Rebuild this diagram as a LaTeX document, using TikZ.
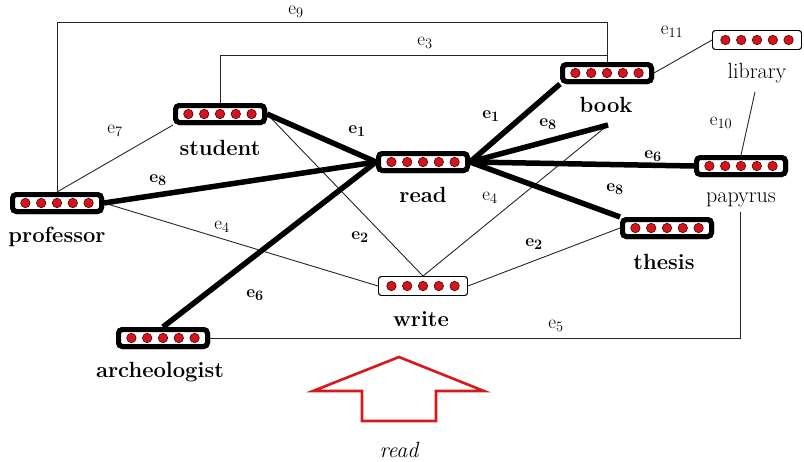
\documentclass[tikz,border=0pt]{standalone}
\usetikzlibrary{calc}
\definecolor{dotred}{RGB}{215,20,30}
\definecolor{dotrim}{RGB}{90,10,10}
\definecolor{arrowred}{RGB}{215,25,25}
\tikzset{
  heavybox/.style={draw=black, line width=5pt, rounded corners=4pt, fill=white,
    minimum width=89pt, minimum height=17pt, inner sep=0pt},
  lightbox/.style={draw=black, line width=0.9pt, rounded corners=3pt, fill=white,
    minimum width=89pt, minimum height=19pt, inner sep=0pt},
  heavyedge/.style={line width=5.5pt, line join=round},
  lightedge/.style={line width=0.9pt, draw=black!85},
  vlabel/.style={font=\fontsize{22}{24}\selectfont, inner sep=0pt},
  elabel/.style={font=\fontsize{19}{21}\selectfont, inner sep=0pt},
  bigarrow/.style={draw=arrowred, line width=2.6pt, line join=miter},
}
\newcommand{\dotrow}[1]{%
  \foreach \k in {-2,...,2}
    \filldraw[fill=dotred, draw=dotrim, line width=0.7pt] ($(#1.center)+(\k*15.8,0)$) circle (4.7pt);}
\begin{document}
\begin{tikzpicture}[x=1pt, y=-1pt]
\useasboundingbox (0,0) rectangle (804,461);

% free ends of the open connectors
\coordinate (bookstub) at (608,125);
\coordinate (libfoot) at (755,92);
\coordinate (papfoot) at (740,212);

% vertex boxes
\node[heavybox] (professor) at (57,203) {};
\node[heavybox] (student) at (220,114) {};
\node[heavybox] (read) at (423,162) {};
\node[heavybox] (book) at (607,73) {};
\node[lightbox] (library) at (757,40) {};
\node[heavybox] (papyrus) at (741,166) {};
\node[heavybox] (thesis) at (667,228) {};
\node[lightbox] (write) at (423,286) {};
\node[heavybox] (archeologist) at (163,338) {};

% ---------- thin connectors ----------
% e9 and e3: routed over the top
\draw[lightedge] (professor.north) -- (57,22) -- (607,22) -- (book.north);
\draw[lightedge] (student.north) -- (220,55) -- (607,55) -- (book.north);
% e7
\draw[lightedge] (professor.north) -- (student.south west);
% e4
\draw[lightedge] (professor.east) -- (write.west);
\draw[lightedge] (write.north) -- (bookstub);
% e2
\draw[lightedge] (student.east) -- (write.north);
\draw[lightedge] (write.east) -- (thesis.west);
% e5
\draw[lightedge] (archeologist.east) -- (740,338) -- (papfoot);
% e10, e11
\draw[lightedge] (libfoot) -- (papyrus.north);
\draw[lightedge] (book.east) -- (library.west);

% ---------- heavy connectors ----------
\draw[heavyedge] (student.east) -- (read.west);
\draw[heavyedge] (professor.east) -- (read.west);
\draw[heavyedge] (archeologist.north) -- (read.west);
\draw[heavyedge] (read.east) -- (book.south west);
\draw[heavyedge] (read.east) -- (bookstub);
\draw[heavyedge] (read.east) -- (papyrus.west);
\draw[heavyedge] (read.east) -- (thesis.north west);

% redraw boxes on top of the connectors
\foreach \n in {professor, student, read, book, papyrus, thesis, archeologist} {
  \node[heavybox] at (\n.center) {};
}
\node[lightbox] at (library.center) {};
\node[lightbox] at (write.center) {};
\foreach \n in {professor, student, read, book, library, papyrus, thesis, write, archeologist} {
  \dotrow{\n}
}

% vertex names
\node[vlabel] (lprofessor) at (57,237) {\bfseries professor};
\node[vlabel] (lstudent) at (220,148) {\bfseries student};
\node[vlabel] (lread) at (423,195) {\bfseries read};
\node[vlabel] (lbook) at (606,105) {\bfseries book};
\node[vlabel] (llibrary) at (757,73) {library};
\node[vlabel] (lpapyrus) at (741,200) {papyrus};
\node[vlabel] (lthesis) at (664,262) {\bfseries thesis};
\node[vlabel] (lwrite) at (421,319) {\bfseries write};
\node[vlabel] (larcheologist) at (160,372) {\bfseries archeologist};

% edge names
\node[elabel] (t9) at (296,12) {e$_9$};
\node[elabel] (t3) at (425,43) {e$_3$};
\node[elabel] (t7) at (115,131) {e$_7$};
\node[elabel] (t8a) at (158,180) {$\mathbf{e_8}$};
\node[elabel] (t4a) at (222,227) {e$_4$};
\node[elabel] (t1a) at (357,131) {$\mathbf{e_1}$};
\node[elabel] (t2a) at (360,237) {$\mathbf{e_2}$};
\node[elabel] (t6a) at (255,295) {$\mathbf{e_6}$};
\node[elabel] (t1b) at (491,116) {$\mathbf{e_1}$};
\node[elabel] (t8b) at (548,124) {$\mathbf{e_8}$};
\node[elabel] (t4b) at (490,198) {e$_4$};
\node[elabel] (t6b) at (653,156) {$\mathbf{e_6}$};
\node[elabel] (t8c) at (615,189) {$\mathbf{e_8}$};
\node[elabel] (t2b) at (534,244) {$\mathbf{e_2}$};
\node[elabel] (t5) at (556,326) {e$_5$};
\node[elabel] (t10) at (721,123) {e$_{10}$};
\node[elabel] (t11) at (672,32) {e$_{11}$};

% the hollow arrow and its caption
\draw[bigarrow] (313,391) -- (399,357) -- (484,391) -- (436,391) -- (436,421)
  -- (362,421) -- (362,391) -- cycle;
\node[vlabel] (cap) at (399,450) {\itshape read};
\end{tikzpicture}
\end{document}
